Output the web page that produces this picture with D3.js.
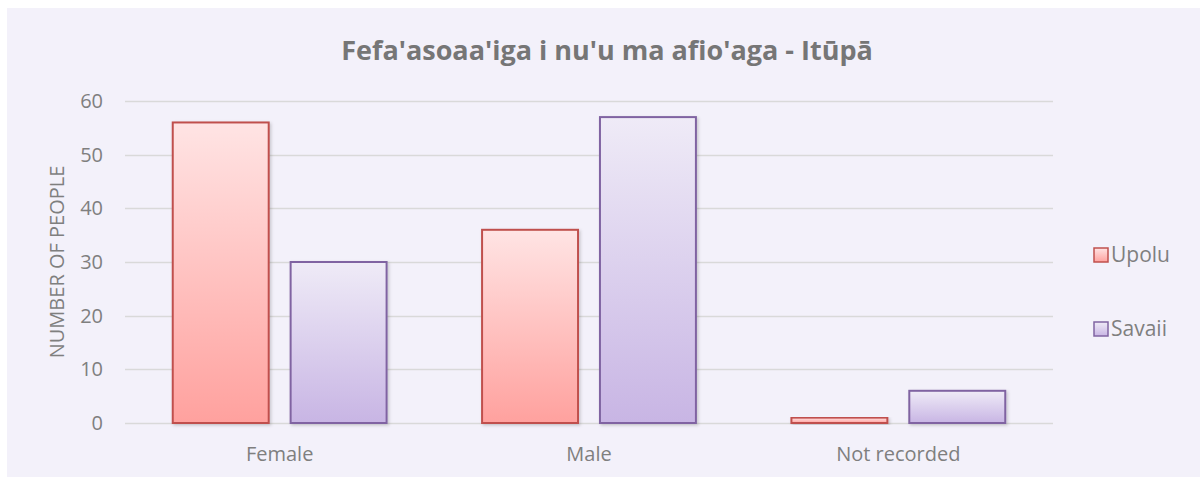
<!DOCTYPE html>
<meta charset="utf-8">
<title>Fefa'asoaa'iga i nu'u ma afio'aga</title>
<style type="text/css">
	body { margin: 0; background: #ffffff; }
	text { font-family: "Open Sans", "Noto Sans", sans-serif; }
</style>
<body>
<div id="chart"></div>
</body>
<script src="https://d3js.org/d3.v7.min.js"></script>
<script>

// chart data
var categories = ["Female", "Male", "Not recorded"];
var seriesNames = ["Upolu", "Savaii"];
var upoluValues = [56, 36, 1];
var savaiiValues = [30, 57, 6];
var yTicks = [0, 10, 20, 30, 40, 50, 60];

var W = 1200, H = 477;
var plot = {left: 125, right: 1053, top: 101, bottom: 423};

var svg = d3.select("#chart").append("svg")
		.attr("width", W)
		.attr("height", H);

// gradients and shadow
var defs = svg.append("defs");
var grads = [
	{id: "gUpolu", top: "#ffe4e4", bottom: "#ffa19e"},
	{id: "gSavaii", top: "#efebf7", bottom: "#c8b5e4"}
];
grads.forEach(function (g) {
	var lg = defs.append("linearGradient").attr("id", g.id)
			.attr("x1", 0).attr("y1", 0).attr("x2", 0).attr("y2", 1);
	lg.append("stop").attr("offset", "0%").attr("stop-color", g.top);
	lg.append("stop").attr("offset", "100%").attr("stop-color", g.bottom);
});
var f = defs.append("filter").attr("id", "shadow")
		.attr("x", "-10%").attr("y", "-10%").attr("width", "130%").attr("height", "130%");
f.append("feDropShadow").attr("dx", 1.5).attr("dy", 1.5).attr("stdDeviation", 1.5)
		.attr("flood-color", "#000").attr("flood-opacity", 0.18);

var fills = ["url(#gUpolu)", "url(#gSavaii)"];
var strokes = ["#c0504d", "#8064a2"];

// chart area background
svg.append("rect")
		.attr("x", 7).attr("y", 8)
		.attr("width", W - 7).attr("height", H - 8)
		.attr("fill", "#f3f1fa");

// scales
var x0 = d3.scaleBand().domain(categories).range([plot.left, plot.right]).paddingInner(0).paddingOuter(0);
var x1 = d3.scaleBand().domain(seriesNames).range([0, x0.bandwidth()]).paddingInner(0.186).paddingOuter(0.405);
var y = d3.scaleLinear().domain([0, 60]).range([plot.bottom, plot.top]);

// gridlines
svg.append("g").selectAll("line")
		.data(yTicks)
		.enter().append("line")
		.attr("x1", plot.left).attr("x2", plot.right)
		.attr("y1", function (d) { return Math.round(y(d)) + 0.5; })
		.attr("y2", function (d) { return Math.round(y(d)) + 0.5; })
		.attr("stroke", "#d9d9d9")
		.attr("stroke-width", 1.5);

// y axis labels
var yAxis = d3.axisLeft(y).tickValues(yTicks).tickSize(0).tickPadding(0);
var ya = svg.append("g")
		.attr("transform", "translate(103,0)")
		.call(yAxis);
ya.select(".domain").remove();
ya.selectAll("text")
		.attr("fill", "#7f7f7f")
		.style("font-size", "20px");

// x axis labels
var xAxis = d3.axisBottom(x0).tickSize(0).tickPadding(0);
var xa = svg.append("g")
		.attr("transform", "translate(0,447)")
		.call(xAxis);
xa.select(".domain").remove();
xa.selectAll("text")
		.attr("fill", "#7f7f7f")
		.style("font-size", "20px");

// bars
var rows = categories.map(function (c, i) {
	return {cat: c, vals: [upoluValues[i], savaiiValues[i]]};
});
var groups = svg.append("g").selectAll("g")
		.data(rows)
		.enter().append("g")
		.attr("transform", function (d) { return "translate(" + x0(d.cat) + ",0)"; });
groups.selectAll("rect")
		.data(function (d) { return d.vals.map(function (v, j) { return {s: j, v: v}; }); })
		.enter().append("rect")
		.attr("x", function (d) { return x1(seriesNames[d.s]); })
		.attr("y", function (d) { return y(d.v); })
		.attr("width", x1.bandwidth())
		.attr("height", function (d) { return y(0) - y(d.v); })
		.attr("fill", function (d) { return fills[d.s]; })
		.attr("stroke", function (d) { return strokes[d.s]; })
		.attr("stroke-width", 2)
		.attr("filter", "url(#shadow)");

// title
svg.append("text")
		.attr("x", 607).attr("y", 60)
		.attr("text-anchor", "middle")
		.attr("fill", "#767676")
		.style("font-size", "27px")
		.style("font-weight", "bold")
		.text("Fefa'asoaa'iga i nu'u ma afio'aga - Itūpā");

// y axis title
svg.append("text")
		.attr("transform", "translate(64," + ((plot.top + plot.bottom) / 2) + ") rotate(-90)")
		.attr("text-anchor", "middle")
		.attr("fill", "#7f7f7f")
		.style("font-size", "20px")
		.text("NUMBER OF PEOPLE");

// legend
var legendY = [255, 329];
seriesNames.forEach(function (name, i) {
	svg.append("rect")
			.attr("x", 1094).attr("y", legendY[i] - 7)
			.attr("width", 14).attr("height", 14)
			.attr("fill", fills[i])
			.attr("stroke", strokes[i])
			.attr("stroke-width", 1.5);
	svg.append("text")
			.attr("x", 1111).attr("y", legendY[i])
			.attr("dy", "0.35em")
			.attr("fill", "#7f7f7f")
			.style("font-size", "21px")
			.text(name);
});

</script>
